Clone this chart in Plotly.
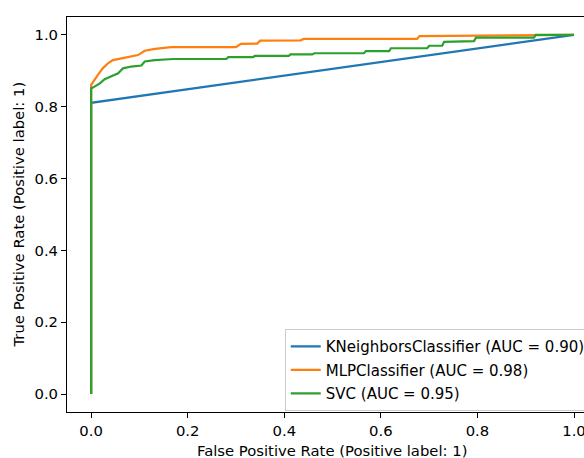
import plotly.graph_objects as go

# Data
knn_fpr = [0.0, 0.0, 1.0]
knn_tpr = [0.0, 0.811, 1.0]

mlp_fpr = [0.0, 0.0, 0.014, 0.024, 0.035, 0.045, 0.063, 0.076, 0.097, 0.111, 0.132, 0.166,
           0.300, 0.310, 0.344, 0.350, 0.434, 0.440, 0.675, 0.680, 0.920, 1.0]
mlp_tpr = [0.0, 0.861, 0.889, 0.907, 0.921, 0.930, 0.935, 0.938, 0.944, 0.956, 0.961, 0.966,
           0.966, 0.975, 0.976, 0.984, 0.985, 0.989, 0.989, 0.997, 0.998, 1.0]

svc_fpr = [0.0, 0.0, 0.007, 0.018, 0.028, 0.042, 0.056, 0.066, 0.083, 0.104, 0.111, 0.132, 0.170,
           0.280, 0.284, 0.335, 0.339, 0.409, 0.413, 0.458, 0.462, 0.565, 0.569, 0.617, 0.621,
           0.696, 0.700, 0.727, 0.731, 0.793, 0.797, 0.917, 0.921, 1.0]
svc_tpr = [0.0, 0.851, 0.856, 0.865, 0.877, 0.884, 0.893, 0.907, 0.912, 0.915, 0.926, 0.930, 0.933,
           0.933, 0.938, 0.938, 0.9415, 0.9415, 0.946, 0.946, 0.949, 0.949, 0.955, 0.955, 0.963,
           0.963, 0.970, 0.970, 0.981, 0.983, 0.9925, 0.9925, 1.0, 1.0]

names = ["KNeighborsClassifier (AUC = 0.90)", "MLPClassifier (AUC = 0.98)", "SVC (AUC = 0.95)"]
colors = ["#1f77b4", "#ff7f0e", "#2ca02c"]

tick_vals = [0.0, 0.2, 0.4, 0.6, 0.8, 1.0]
tick_text = ["0.0", "0.2", "0.4", "0.6", "0.8", "1.0"]

FONT = "DejaVu Sans"
FS = 14.8

fig = go.Figure()
for xs, ys, nm, c in zip([knn_fpr, mlp_fpr, svc_fpr], [knn_tpr, mlp_tpr, svc_tpr], names, colors):
    fig.add_trace(go.Scatter(x=xs, y=ys, mode="lines", name=nm,
                             line=dict(color=c, width=2.2), legendgroup=nm))

axis_common = dict(showgrid=False, zeroline=False, showline=True, linecolor="black", linewidth=1,
                   ticks="outside", ticklen=5, tickwidth=1, tickcolor="black", automargin=False,
                   tickvals=tick_vals, ticktext=tick_text, ticklabeloverflow="allow",
                   tickfont=dict(family=FONT, size=FS, color="black"))

fig.update_layout(
    width=584, height=458,
    margin=dict(l=67.4, r=0, t=17, b=46, pad=0, autoexpand=False),
    paper_bgcolor="white", plot_bgcolor="white",
    font=dict(family=FONT, size=FS, color="black"),
    xaxis=dict(range=[-0.05, 1.0207], mirror=True, **axis_common),
    yaxis=dict(range=[-0.05, 1.05], **axis_common),
    showlegend=True,
    legend=dict(x=0.4212, y=0.21, xanchor="left", yanchor="top",
                bgcolor="rgba(255,255,255,0.8)", bordercolor="#cccccc", borderwidth=1,
                font=dict(family=FONT, size=15, color="black"), tracegroupgap=1),
    annotations=[
        dict(text="False Positive Rate (Positive label: 1)", xref="paper", yref="paper",
             x=0.513, y=0, yshift=-38, xanchor="center", yanchor="middle", showarrow=False,
             font=dict(family=FONT, size=FS, color="black")),
        dict(text="True Positive Rate (Positive label: 1)", xref="paper", yref="paper",
             x=0, xshift=-49, y=0.5, xanchor="center", yanchor="middle", textangle=-90,
             showarrow=False, font=dict(family=FONT, size=FS, color="black")),
    ],
)

fig.write_html("out.html", config={"displayModeBar": False},
               post_script="document.body.style.margin='0';document.body.style.overflow='hidden';")
